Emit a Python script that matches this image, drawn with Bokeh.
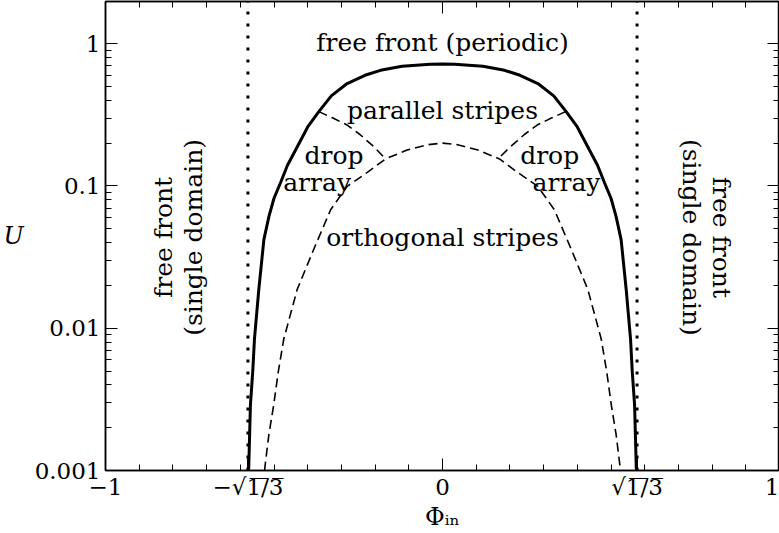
import math
from bokeh.plotting import figure
from bokeh.models import FixedTicker, LinearAxis, LogAxis, Range1d
from bokeh.core.properties import value
from bokeh.embed import file_html
from bokeh.resources import INLINE

# ---------------- data ----------------
# outer boundary (solid)
solid_x = [-0.5773, -0.575, -0.570, -0.563, -0.558, -0.545, -0.530, -0.515, -0.500,
           -0.481, -0.460, -0.436, -0.400, -0.367, -0.330, -0.283, -0.230, -0.184,
           -0.120, -0.036, 0.0,
           0.036, 0.120, 0.184, 0.230, 0.283, 0.330, 0.367, 0.400, 0.436,
           0.460, 0.481, 0.500, 0.515, 0.530, 0.545, 0.558, 0.563, 0.570, 0.575, 0.5773]
solid_u = [0.001, 0.00104, 0.00288, 0.005, 0.0084, 0.0188, 0.042, 0.0612, 0.082,
           0.105, 0.140, 0.179, 0.26, 0.333, 0.43, 0.525, 0.60, 0.650,
           0.695, 0.716, 0.72,
           0.716, 0.695, 0.650, 0.60, 0.525, 0.43, 0.333, 0.26, 0.179,
           0.140, 0.105, 0.082, 0.0612, 0.042, 0.0188, 0.0084, 0.005, 0.00288, 0.00104, 0.001]

# inner boundary (dashed): orthogonal stripes below
ortho_x = [-0.528, -0.525, -0.515, -0.501, -0.487, -0.471, -0.431, -0.382, -0.332, -0.283,
           -0.220, -0.169, -0.105, -0.045, 0.0,
           0.045, 0.105, 0.169, 0.220, 0.283, 0.332, 0.382, 0.431, 0.471, 0.487,
           0.501, 0.515, 0.525, 0.528]
ortho_u = [0.001, 0.00116, 0.0018, 0.00288, 0.0050, 0.0084, 0.0188, 0.0359, 0.068, 0.0993,
           0.126, 0.155, 0.179, 0.195, 0.20,
           0.195, 0.179, 0.155, 0.126, 0.0993, 0.068, 0.0359, 0.0188, 0.0084, 0.0050,
           0.00288, 0.0018, 0.00116, 0.001]

# dashed separatrices between parallel stripes and drop arrays
sep_left_x = [-0.367, -0.325, -0.283, -0.245, -0.204, -0.169]
sep_left_u = [0.333, 0.30, 0.268, 0.23, 0.189, 0.155]
sep_right_x = [0.365, 0.323, 0.281, 0.243, 0.202, 0.167]
sep_right_u = [0.333, 0.30, 0.268, 0.23, 0.189, 0.157]

# dotted verticals at Phi = +-sqrt(1/3)
vline_x = [-0.57735, 0.57735]
vline_u0 = [0.001, 0.001]
vline_u1 = [2.0, 2.0]

# region labels
region_text = ["free front (periodic)", "parallel stripes", "drop", "array",
               "drop", "array", "orthogonal stripes"]
region_x = [0.0, 0.0, -0.322, -0.372, 0.318, 0.368, 0.0]
region_u = [1.013, 0.339, 0.163, 0.106, 0.163, 0.106, 0.0435]

side_left_text = ["free front", "(single domain)"]
side_left_x = [-0.828, -0.740]
side_right_text = ["(single domain)", "free front"]
side_right_x = [0.740, 0.828]
side_u = [0.0435, 0.0435]

# ticks
x_major = [-1.0, -0.57735, 0.0, 0.57735, 1.0]
x_major_labels = ["\u22121", "\u2212\u221a1\u0305/\u03053\u0305", "0", "\u221a1\u0305/\u03053\u0305", "1"]
x_top_major = [-1.0, 0.0, 1.0]
x_minor = [-0.9, -0.8, -0.7, -0.6, -0.5, -0.4, -0.3, -0.2, -0.1,
           0.1, 0.2, 0.3, 0.4, 0.5, 0.6, 0.7, 0.8, 0.9]
y_major = [0.001, 0.01, 0.1, 1.0]
y_major_labels = ["0.001", "0.01", "0.1", "1"]
y_minor = [0.002, 0.003, 0.004, 0.005, 0.006, 0.007, 0.008, 0.009,
           0.02, 0.03, 0.04, 0.05, 0.06, 0.07, 0.08, 0.09,
           0.2, 0.3, 0.4, 0.5, 0.6, 0.7, 0.8, 0.9]

FONT = "DejaVu Serif"

p = figure(width=779, height=533, output_backend="svg", toolbar_location=None,
           x_range=Range1d(-1, 1), y_range=Range1d(0.001, 1.98), y_axis_type="log",
           min_border_left=105, min_border_right=0, min_border_top=1, min_border_bottom=61)
p.background_fill_color = "white"
p.border_fill_color = "white"
p.grid.visible = False
p.outline_line_color = "black"
p.outline_line_width = 1.5


def style_axis(ax):
    ax.axis_line_color = "black"
    ax.axis_line_width = 1.5
    ax.major_tick_in = 12
    ax.major_tick_out = 0
    ax.minor_tick_in = 6
    ax.minor_tick_out = 0
    ax.major_tick_line_color = "black"
    ax.minor_tick_line_color = "black"
    ax.major_tick_line_width = 1
    ax.minor_tick_line_width = 1
    ax.major_label_text_font = FONT
    ax.major_label_text_color = "black"
    ax.major_label_text_font_size = "23px"
    ax.axis_label_text_color = "black"


xa = p.xaxis[0]
xa.ticker = FixedTicker(ticks=x_major, minor_ticks=x_minor)
xa.major_label_overrides = {t: l for t, l in zip(x_major, x_major_labels)}
style_axis(xa)
xa.major_label_standoff = 3
xa.axis_label = "\u03a6\u1d62\u2099"
xa.axis_label_text_font = FONT
xa.axis_label_text_font_style = "normal"
xa.axis_label_text_font_size = "24px"
xa.axis_label_standoff = 0

ya = p.yaxis[0]
ya.ticker = FixedTicker(ticks=y_major, minor_ticks=y_minor)
ya.major_label_overrides = {t: l for t, l in zip(y_major, y_major_labels)}
style_axis(ya)
ya.major_label_standoff = 5
ya.axis_label = "U"
ya.axis_label_text_font = FONT
ya.axis_label_text_font_style = "italic"
ya.axis_label_text_font_size = "24px"
ya.axis_label_standoff = 8
try:
    ya.axis_label_orientation = "horizontal"
except Exception:
    pass

top = LinearAxis(ticker=FixedTicker(ticks=x_top_major, minor_ticks=x_minor))
style_axis(top)
top.major_label_overrides = {t: "" for t in x_top_major}
top.major_label_text_font_size = "1px"
top.major_label_standoff = 0
p.add_layout(top, "above")
right = LogAxis(ticker=FixedTicker(ticks=y_major, minor_ticks=y_minor))
style_axis(right)
right.major_label_overrides = {t: "" for t in y_major}
right.major_label_text_font_size = "1px"
right.major_label_standoff = 0
p.add_layout(right, "right")

# dotted verticals
p.segment(x0=vline_x, y0=vline_u0, x1=vline_x, y1=vline_u1,
          line_color="black", line_width=3, line_dash="3 9")
# boundaries
p.line(solid_x, solid_u, line_color="black", line_width=3)
p.line(ortho_x, ortho_u, line_color="black", line_width=1.6, line_dash="9 5")
p.line(sep_left_x, sep_left_u, line_color="black", line_width=1.6, line_dash="9 5")
p.line(sep_right_x, sep_right_u, line_color="black", line_width=1.6, line_dash="9 5")

# labels
p.text(x=region_x, y=region_u, text=region_text, text_font=value(FONT),
       text_font_size="25px", text_align="center", text_baseline="middle",
       text_color="black")
p.text(x=side_left_x, y=side_u, text=side_left_text, text_font=value(FONT),
       text_font_size="25px", text_align="center", text_baseline="middle",
       text_color="black", angle=math.pi / 2)
p.text(x=side_right_x, y=side_u, text=side_right_text, text_font=value(FONT),
       text_font_size="25px", text_align="center", text_baseline="middle",
       text_color="black", angle=-math.pi / 2)

open("out.html", "w").write(file_html(p, INLINE))
